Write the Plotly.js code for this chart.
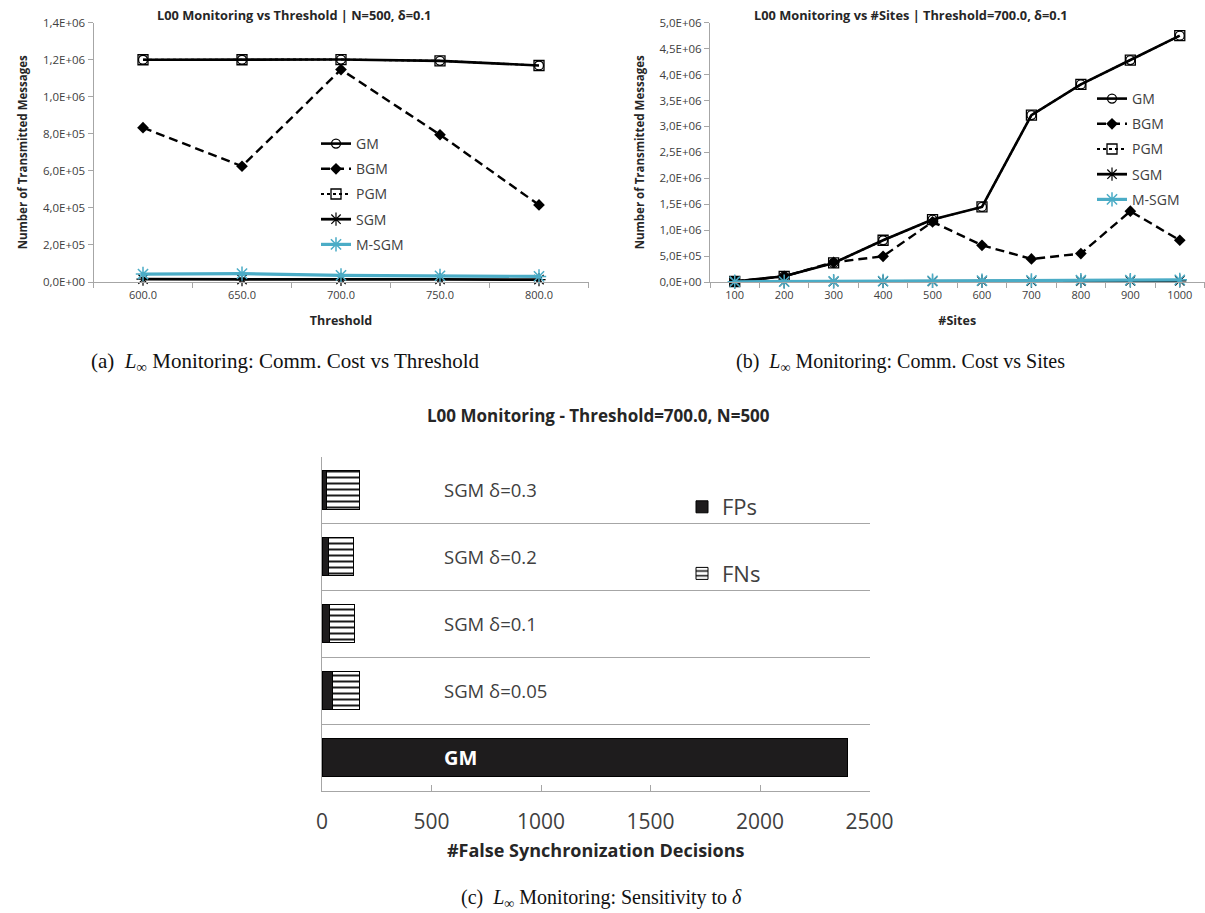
<!DOCTYPE html>
<html>
<head>
<meta charset="utf-8">
<script src="https://cdn.plot.ly/plotly-3.0.1.min.js"></script>
<style>
  html, body { margin: 0; padding: 0; background: #ffffff; }
  #chart { width: 1205px; height: 913px; }
</style>
</head>
<body>
<div id="chart"></div>
<script>
// ---- (a) messages vs threshold, N=500, delta=0.1 ----
const thresholds = ['600.0', '650.0', '700.0', '750.0', '800.0'];
const thrGM   = [1200000, 1200000, 1201000, 1194000, 1169000];
const thrBGM  = [833000, 625000, 1147000, 795000, 416000];
const thrPGM  = [1200000, 1200000, 1201000, 1194000, 1169000];
const thrSGM  = [15000, 13000, 14000, 14000, 13000];
const thrMSGM = [43000, 45000, 36000, 33000, 30000];
const thrTickVals = [0, 200000, 400000, 600000, 800000, 1000000, 1200000, 1400000];
const thrTickText = ['0,0E+00', '2,0E+05', '4,0E+05', '6,0E+05', '8,0E+05', '1,0E+06', '1,2E+06', '1,4E+06'];

// ---- (b) messages vs number of sites, threshold=700, delta=0.1 ----
const sites = ['100', '200', '300', '400', '500', '600', '700', '800', '900', '1000'];
const sitesGM   = [10000, 110000, 367000, 805000, 1203000, 1448000, 3218000, 3810000, 4280000, 4750000];
const sitesBGM  = [10000, 110000, 380000, 496000, 1160000, 708000, 444000, 548000, 1365000, 805000];
const sitesPGM  = [10000, 110000, 367000, 805000, 1203000, 1448000, 3218000, 3810000, 4280000, 4750000];
const sitesSGM  = [4000, 6000, 9000, 10000, 13000, 14000, 17000, 18000, 21000, 23000];
const sitesMSGM = [5000, 8000, 14000, 18000, 24000, 26000, 31000, 34000, 37000, 41000];
const sitesTickVals = [0, 500000, 1000000, 1500000, 2000000, 2500000, 3000000, 3500000, 4000000, 4500000, 5000000];
const sitesTickText = ['0,0E+00', '5,0E+05', '1,0E+06', '1,5E+06', '2,0E+06', '2,5E+06', '3,0E+06', '3,5E+06', '4,0E+06', '4,5E+06', '5,0E+06'];

// ---- (c) false synchronization decisions ----
const configs = ['GM', 'SGM δ=0.05', 'SGM δ=0.1', 'SGM δ=0.2', 'SGM δ=0.3'];
const falsePositives = [2400, 46, 32, 30, 20];
const falseNegatives = [0, 126, 116, 115, 149];
const decisionTicks = [0, 500, 1000, 1500, 2000, 2500];

const W = 1205, H = 913;
const px = v => v / W;
const py = v => 1 - v / H;

const SANS = 'Open Sans, sans-serif';
const SERIF = 'Liberation Serif, Times New Roman, serif';
const AXIS = '#a6a6a6';
const TXT = '#404040';
const DARK = '#262626';
const CYAN = '#4bacc6';

function lineSeries(x, y, name, style, xa, ya, leg) {
  return Object.assign({
    type: 'scatter', mode: 'lines+markers', x: x, y: y, name: name,
    xaxis: xa, yaxis: ya, legend: leg, legendgroup: leg + name,
    cliponaxis: false
  }, style);
}

const styles = {
  GM:   { line: { color: '#000', width: 2.6 }, marker: { symbol: 'circle-open', size: 9, color: '#000', line: { width: 1.3 } } },
  BGM:  { line: { color: '#000', width: 2.4, dash: '9px,5px' }, marker: { symbol: 'diamond', size: 9, color: '#000' } },
  PGM:  { line: { color: '#000', width: 2, dash: 'dot' }, marker: { symbol: 'square-open', size: 10, color: '#000', line: { width: 1.3 } } },
  SGM:  { line: { color: '#000', width: 2.8 }, marker: { symbol: 'asterisk-open', size: 11, color: '#000', line: { width: 1.2, color: '#000' } } },
  MSGM: { line: { color: CYAN, width: 3.2 }, marker: { symbol: 'asterisk-open', size: 12, color: CYAN, line: { width: 1.5, color: CYAN } } }
};

const traces = [
  lineSeries(thresholds, thrGM, 'GM', styles.GM, 'x', 'y', 'legend'),
  lineSeries(thresholds, thrBGM, 'BGM', styles.BGM, 'x', 'y', 'legend'),
  lineSeries(thresholds, thrPGM, 'PGM', styles.PGM, 'x', 'y', 'legend'),
  lineSeries(thresholds, thrSGM, 'SGM', styles.SGM, 'x', 'y', 'legend'),
  lineSeries(thresholds, thrMSGM, 'M-SGM', styles.MSGM, 'x', 'y', 'legend'),

  lineSeries(sites, sitesGM, 'GM', styles.GM, 'x2', 'y2', 'legend2'),
  lineSeries(sites, sitesBGM, 'BGM', styles.BGM, 'x2', 'y2', 'legend2'),
  lineSeries(sites, sitesPGM, 'PGM', styles.PGM, 'x2', 'y2', 'legend2'),
  lineSeries(sites, sitesSGM, 'SGM', styles.SGM, 'x2', 'y2', 'legend2'),
  lineSeries(sites, sitesMSGM, 'M-SGM', styles.MSGM, 'x2', 'y2', 'legend2'),

  {
    type: 'bar', orientation: 'h', name: 'FPs', x: falsePositives, y: configs,
    xaxis: 'x3', yaxis: 'y3', legend: 'legend3', legendgroup: 'fp',
    marker: { color: '#1e1c1d', line: { color: '#000', width: 1 } }
  },
  {
    type: 'bar', orientation: 'h', name: 'FNs', x: falseNegatives, y: configs,
    xaxis: 'x3', yaxis: 'y3', legend: 'legend3', legendgroup: 'fn',
    marker: {
      color: '#ffffff',
      line: { color: '#000', width: 1 },
      pattern: { shape: '-', fgcolor: '#000', bgcolor: '#ffffff', size: 6, solidity: 0.3 }
    }
  }
];

function catX(domain, title, size) {
  return {
    domain: domain, type: 'category', range: [-0.5, size - 0.5], tickson: 'boundaries',
    showline: true, linecolor: AXIS, linewidth: 1, ticks: 'outside', ticklen: 5, tickcolor: AXIS,
    showgrid: false, zeroline: false, fixedrange: true, ticklabelstandoff: 3,
    tickfont: { family: SANS, size: 11, color: TXT },
    title: { text: title, font: { family: SANS, size: 12.5, color: DARK, weight: 'bold' }, standoff: 15 }
  };
}
function valY(domain, range, vals, text) {
  return {
    domain: domain, range: range, tickvals: vals, ticktext: text,
    showline: true, linecolor: AXIS, linewidth: 1, ticks: 'outside', ticklen: 5, tickcolor: AXIS,
    showgrid: false, zeroline: false, fixedrange: true,
    tickfont: { family: SANS, size: 11.5, color: TXT },
    title: { text: 'Number of Transmitted Messages', font: { family: SANS, size: 11.5, color: DARK, weight: 'bold' }, standoff: 12 }
  };
}

const xa = catX([px(93.5), px(588.5)], 'Threshold', thresholds.length);
xa.anchor = 'y';
const ya = valY([py(282), py(22.7)], [0, 1400000], thrTickVals, thrTickText);
ya.anchor = 'x';

const xb = catX([px(710), px(1204.5)], '#Sites', sites.length);
xb.anchor = 'y2';
const yb = valY([py(282), py(22.7)], [0, 5000000], sitesTickVals, sitesTickText);
yb.anchor = 'x2';

const xc = {
  domain: [px(322), px(869.5)], range: [0, 2500], anchor: 'y3',
  tickvals: decisionTicks, showline: true, linecolor: AXIS, linewidth: 1,
  ticks: 'inside', ticklen: 6, tickcolor: AXIS, showgrid: false, zeroline: false,
  ticklabelstandoff: 12, fixedrange: true,
  tickfont: { family: SANS, size: 21, color: TXT },
  title: { text: '#False Synchronization Decisions', font: { family: SANS, size: 18, color: DARK, weight: 'bold' }, standoff: 10 }
};
const yc = {
  domain: [py(791), py(456.5)], type: 'category', categoryorder: 'array', categoryarray: configs,
  range: [-0.5, configs.length - 0.5], anchor: 'x3', tickson: 'boundaries',
  showline: true, linecolor: AXIS, linewidth: 1, ticks: '', showticklabels: false,
  showgrid: true, gridcolor: AXIS, gridwidth: 1, zeroline: false, fixedrange: true
};

const annotations = [
  { text: '<b>L00 Monitoring vs Threshold | N=500, δ=0.1</b>', x: px(294), y: py(15), size: 12.8 },
  { text: '<b>L00 Monitoring vs #Sites | Threshold=700.0, δ=0.1</b>', x: px(911), y: py(15), size: 12.8 },
  { text: '<b>L00 Monitoring - Threshold=700.0, N=500</b>', x: px(598), y: py(415), size: 17 },
].map(a => ({
  xref: 'paper', yref: 'paper', x: a.x, y: a.y, xanchor: 'center', yanchor: 'middle',
  text: a.text, showarrow: false, font: { family: SANS, size: a.size, color: DARK }
}));

// sub-figure captions
[
  { text: '(a)  <i>L</i><sub>∞</sub> Monitoring: Comm. Cost vs Threshold', x: px(285), y: py(362), size: 21 },
  { text: '(b)  <i>L</i><sub>∞</sub> Monitoring: Comm. Cost vs Sites', x: px(900), y: py(362), size: 20 },
  { text: '(c)  <i>L</i><sub>∞</sub> Monitoring: Sensitivity to <i>δ</i>', x: px(601), y: py(898), size: 20 }
].forEach(c => annotations.push({
  xref: 'paper', yref: 'paper', x: c.x, y: c.y, xanchor: 'center', yanchor: 'middle',
  text: c.text, showarrow: false, font: { family: SERIF, size: c.size, color: '#111' }
}));

// category names written across each row of (c)
configs.forEach(c => annotations.push({
  xref: 'x3', yref: 'y3', x: 550, y: c, xanchor: 'left', yanchor: 'middle', showarrow: false,
  text: c === 'GM' ? '<b>GM</b>' : c,
  font: { family: SANS, size: c === 'GM' ? 20 : 18.5, color: c === 'GM' ? '#ffffff' : TXT }
}));

const legendBase = {
  xanchor: 'left', yanchor: 'top', bgcolor: 'rgba(0,0,0,0)', borderwidth: 0,
  itemwidth: 30, itemclick: false, itemdoubleclick: false, traceorder: 'grouped'
};

const layout = {
  width: W, height: H, margin: { l: 0, r: 0, t: 0, b: 0 },
  paper_bgcolor: '#ffffff', plot_bgcolor: 'rgba(0,0,0,0)',
  showlegend: true, barmode: 'stack', bargap: 0.43,
  xaxis: xa, yaxis: ya, xaxis2: xb, yaxis2: yb, xaxis3: xc, yaxis3: yc,
  legend: Object.assign({}, legendBase, { x: px(316), y: py(128), tracegroupgap: 4, font: { family: SANS, size: 14, color: TXT } }),
  legend2: Object.assign({}, legendBase, { x: px(1092), y: py(83), tracegroupgap: 4, font: { family: SANS, size: 14, color: TXT } }),
  legend3: Object.assign({}, legendBase, { x: px(682), y: py(486), tracegroupgap: 35, font: { family: SANS, size: 22, color: TXT } }),
  annotations: annotations
};

Plotly.newPlot('chart', traces, layout, { displayModeBar: false, staticPlot: true });
</script>
</body>
</html>
